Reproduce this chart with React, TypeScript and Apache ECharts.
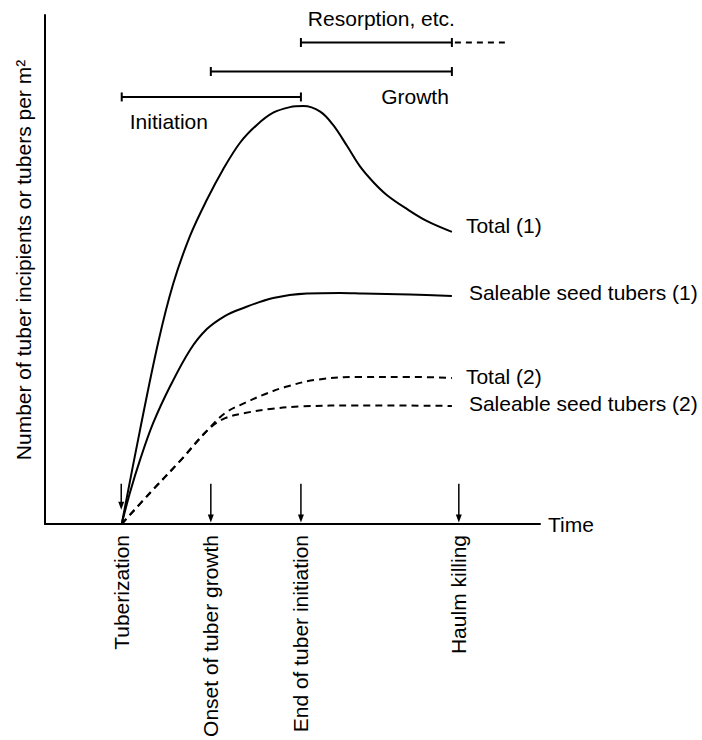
import React, { useEffect, useRef } from 'react';
import * as echarts from 'echarts';

const FONT = '"Liberation Sans", Arial, Helvetica, sans-serif';
const FS = 21;

// Curves: [time, number] in arbitrary units (0–100)
const total1 = [
  [15.5, 0], [19.2, 18.5], [22.9, 35.8], [25.9, 47.2], [29.3, 56.6], [32.7, 63.7],
  [36.0, 69.7], [39.4, 74.9], [42.8, 78.4], [46.1, 80.8], [49.5, 81.9], [52.2, 82.1],
  [55.6, 81.0], [58.2, 78.4], [61.0, 74.3], [63.6, 70.3], [66.3, 67.2], [69.1, 64.6],
  [73.1, 61.9], [77.2, 59.5], [82.2, 57.4],
];
const saleable1 = [
  [15.5, 0], [17.2, 6.3], [19.2, 12.6], [21.8, 19.7], [25.3, 27.1], [29.3, 34.2],
  [32.7, 38.3], [36.4, 40.9], [39.4, 42.2], [46.1, 44.4], [52.9, 45.3], [59.6, 45.4],
  [64.2, 45.3], [73.7, 45.1], [82.2, 44.8],
];
const total2 = [
  [15.5, 0], [21.2, 6.1], [27.3, 12.4], [32.9, 18.5], [36.4, 21.8], [40.4, 23.8],
  [44.4, 25.5], [48.5, 26.9], [54.5, 28.3], [63.6, 28.9], [73.7, 28.9], [82.2, 28.7],
];
const saleable2 = [
  [15.5, 0], [21.2, 6.1], [27.3, 12.4], [32.9, 18.5], [36.4, 20.8], [40.4, 21.8],
  [45.5, 22.6], [51.5, 23.1], [63.6, 23.3], [82.2, 23.2],
];
const seriesNames = ['Total (1)', 'Saleable seed tubers (1)', 'Total (2)', 'Saleable seed tubers (2)'];
const seriesData = [total1, saleable1, total2, saleable2];
const seriesDashed = [false, false, true, true];
const endLabelStyle = [
  { distance: 14, offset: [0, -6] },
  { distance: 17, offset: [0, -3] },
  { distance: 14, offset: [0, -1] },
  { distance: 17, offset: [0, -2] },
];

// Events on the time axis
const eventNames = ['Tuberization', 'Onset of tuber growth', 'End of tuber initiation', 'Haulm killing'];
const eventX = [15.4, 33.5, 51.7, 83.6];
const eventArrowTop = [7.9, 7.9, 7.9, 7.9];
const eventArrowBottom = [2.8, 0.3, 0.3, 0.3];

// Phases
const phaseNames = ['Initiation', 'Growth', 'Resorption, etc.'];
const phaseStart = [15.5, 33.5, 51.7];
const phaseEnd = [51.7, 82.2, 82.2];
const phaseLevel = [83.9, 88.9, 94.6];
const phaseContinue = [0, 0, 92.9];

const yTitle = 'Number of tuber incipients or tubers per m²';
const xTitle = 'Time';

export default function App() {
  const ref = useRef<HTMLDivElement>(null);
  useEffect(() => {
    document.body.style.margin = '0';
    if (!ref.current) return;
    const chart = echarts.init(ref.current, undefined, { renderer: 'svg' });

    const lineSeries = seriesNames.map((name, i) => ({
      type: 'line',
      name,
      data: seriesData[i],
      smooth: 0.35,
      symbol: 'none',
      lineStyle: { color: '#000', width: 2, type: seriesDashed[i] ? [7, 5] : 'solid' },
      endLabel: {
        show: true,
        formatter: '{a}',
        fontSize: FS,
        fontFamily: FONT,
        color: '#000',
        distance: endLabelStyle[i].distance,
        offset: endLabelStyle[i].offset,
      },
      silent: true,
    }));

    const phaseSeries = {
      type: 'custom',
      data: phaseNames.map((_, i) => [phaseStart[i], phaseEnd[i], phaseLevel[i], phaseContinue[i]]),
      encode: { x: [0, 1], y: 2 },
      renderItem: (params: any, api: any) => {
        const i = params.dataIndex;
        const s = api.coord([api.value(0), api.value(2)]);
        const e = api.coord([api.value(1), api.value(2)]);
        const st = { stroke: '#000', lineWidth: 2 };
        const children: any[] = [
          { type: 'line', shape: { x1: s[0], y1: s[1], x2: e[0], y2: e[1] }, style: st },
          { type: 'line', shape: { x1: s[0], y1: s[1] - 4.5, x2: s[0], y2: s[1] + 4.5 }, style: st },
          { type: 'line', shape: { x1: e[0], y1: e[1] - 4.5, x2: e[0], y2: e[1] + 4.5 }, style: st },
        ];
        const cont = api.value(3);
        if (cont > api.value(1)) {
          const c = api.coord([cont, api.value(2)]);
          children.push({
            type: 'line',
            shape: { x1: e[0] + 3, y1: e[1], x2: c[0], y2: c[1] },
            style: { stroke: '#000', lineWidth: 2, lineDash: [6, 5] },
          });
        }
        let tx = s[0] + 8, ty = s[1] + 25, align = 'left';
        if (i === 1) { tx = e[0] - 3; ty = e[1] + 25; align = 'right'; }
        if (i === 2) { tx = (s[0] + e[0]) / 2 + 5; ty = s[1] - 24; align = 'center'; }
        children.push({
          type: 'text',
          x: tx,
          y: ty,
          style: {
            text: phaseNames[i],
            fill: '#000',
            fontSize: FS,
            fontFamily: FONT,
            align,
            verticalAlign: 'middle',
          },
        });
        return { type: 'group', children };
      },
      silent: true,
      z: 3,
    };

    const arrowSeries = {
      type: 'custom',
      data: eventX.map((x, i) => [x, eventArrowTop[i], eventArrowBottom[i]]),
      encode: { x: 0, y: [1, 2] },
      renderItem: (_params: any, api: any) => {
        const t = api.coord([api.value(0), api.value(1)]);
        const b = api.coord([api.value(0), api.value(2)]);
        const head = 8;
        return {
          type: 'group',
          children: [
            {
              type: 'line',
              shape: { x1: t[0], y1: t[1], x2: b[0], y2: b[1] - head + 1 },
              style: { stroke: '#000', lineWidth: 1.5 },
            },
            {
              type: 'polygon',
              shape: { points: [[b[0] - 3, b[1] - head], [b[0] + 3, b[1] - head], [b[0], b[1]]] },
              style: { fill: '#000' },
            },
          ],
        };
      },
      silent: true,
      z: 3,
    };

    chart.setOption({
      animation: false,
      grid: { left: 45, right: 162, top: 15, bottom: 216, containLabel: false },
      xAxis: {
        type: 'value',
        min: 0,
        max: 100,
        name: xTitle,
        nameLocation: 'end',
        nameGap: 8,
        nameTextStyle: { fontSize: FS, fontFamily: FONT, color: '#000', align: 'left', verticalAlign: 'middle' },
        axisLine: { show: true, lineStyle: { color: '#000', width: 2 } },
        axisTick: { show: false },
        splitLine: { show: false },
        axisLabel: {
          customValues: eventX,
          formatter: (v: number) => {
            const idx = eventX.findIndex((x) => Math.abs(x - v) < 1e-6);
            return idx >= 0 ? eventNames[idx] : '';
          },
          rotate: 90,
          margin: 11,
          fontSize: FS,
          fontFamily: FONT,
          color: '#000',
          hideOverlap: false,
        },
      },
      yAxis: {
        type: 'value',
        min: 0,
        max: 100,
        axisLine: { show: true, lineStyle: { color: '#000', width: 2 } },
        axisTick: { show: false },
        axisLabel: { show: false },
        splitLine: { show: false },
      },
      graphic: [
        {
          type: 'text',
          x: 23,
          y: 260,
          rotation: Math.PI / 2,
          style: {
            text: yTitle,
            fill: '#000',
            fontSize: FS,
            fontFamily: FONT,
            align: 'center',
            verticalAlign: 'middle',
          },
        },
      ],
      series: [...lineSeries, phaseSeries, arrowSeries],
    });
    return () => chart.dispose();
  }, []);
  return <div ref={ref} style={{ width: 702, height: 740 }} />;
}
